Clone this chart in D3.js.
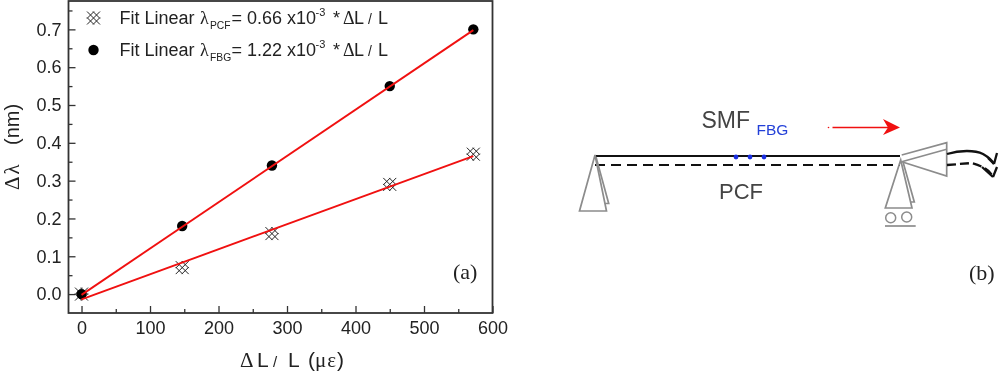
<!DOCTYPE html>
<html>
<head>
<meta charset="utf-8">
<script src="https://cdn.jsdelivr.net/npm/d3@7"></script>
<style>
  html, body { margin: 0; padding: 0; background: #fff; }
  svg { display: block; filter: blur(0.4px); }
  text { font-family: "Liberation Sans", Arial, sans-serif; fill: #222; }
  .serif { font-family: "Liberation Serif", serif; }
</style>
</head>
<body>
<svg width="1000" height="371"></svg>
<script>
// valori
const strain = [0, 147, 278, 450, 572];
const shiftPCF = [0, 0.07, 0.16, 0.29, 0.37];
const shiftFBG = [0, 0.18, 0.34, 0.55, 0.70];
// rette di fit (estremi)
const fitX = [0, 572];
const fitPCF = [-0.014, 0.365];
const fitFBG = [-0.002, 0.698];
const xTicks = [0, 100, 200, 300, 400, 500, 600];
const xMinor = [50, 150, 250, 350, 450, 550];
const yTicks = [0, 0.1, 0.2, 0.3, 0.4, 0.5, 0.6, 0.7];
const yMinor = [0.05, 0.15, 0.25, 0.35, 0.45, 0.55, 0.65, 0.75];

const svg = d3.select("svg");
const box = { left: 68.5, right: 492.5, top: 1, bottom: 313 };

const xScale = d3.scaleLinear().domain([-19, 600]).range([box.left, box.right]);
const yScale = d3.scaleLinear().domain([-0.05, 0.775]).range([box.bottom, box.top]);

// assi: tacche verso l'interno
function styleAxis(g) {
  g.select(".domain").remove();
  g.selectAll("line").attr("stroke", "#333").attr("stroke-width", 1.3);
  g.selectAll("text").attr("font-size", 18).attr("fill", "#222")
    .style("font-family", '"Liberation Sans", sans-serif');
}
function xAxis(values, size, labels) {
  svg.append("g")
    .attr("transform", `translate(0, ${box.bottom})`)
    .call(d3.axisBottom(xScale).tickValues(values).tickSize(-size).tickPadding(8)
      .tickFormat(labels ? d3.format("d") : ""))
    .call(styleAxis);
}
function yAxis(values, size, labels) {
  svg.append("g")
    .attr("transform", `translate(${box.left}, 0)`)
    .call(d3.axisLeft(yScale).tickValues(values).tickSize(-size).tickPadding(7)
      .tickFormat(labels ? d3.format(".1f") : ""))
    .call(styleAxis);
}
xAxis(xTicks, 7, true);
xAxis(xMinor, 4, false);
yAxis(yTicks, 7, true);
yAxis(yMinor, 4, false);

svg.append("rect")
  .attr("x", box.left).attr("y", box.top)
  .attr("width", box.right - box.left).attr("height", box.bottom - box.top)
  .attr("fill", "none").attr("stroke", "#333").attr("stroke-width", 1.8);

// simbolo incrociato del PCF
const hatch = "M-6.5,-6.5L6.5,6.5 M-0.5,-6.5L6.5,0.5 M-6.5,-0.5L0.5,6.5"
  + " M-6.5,6.5L6.5,-6.5 M-6.5,0.5L0.5,-6.5 M-0.5,6.5L6.5,-0.5";
function drawHatch(x, y) {
  svg.append("path")
    .attr("transform", `translate(${x}, ${y})`)
    .attr("d", hatch)
    .attr("fill", "none").attr("stroke", "#222").attr("stroke-width", 1);
}

strain.forEach((d, i) => drawHatch(xScale(d), yScale(shiftPCF[i])));

svg.selectAll(".fbg")
  .data(strain)
  .join("circle")
  .attr("class", "fbg")
  .attr("cx", d => xScale(d))
  .attr("cy", (d, i) => yScale(shiftFBG[i]))
  .attr("r", 5.2)
  .attr("fill", "#000");

// rette di fit
const fitLine = d3.line().x((d, i) => xScale(fitX[i])).y(d => yScale(d));
[fitPCF, fitFBG].forEach(f => {
  svg.append("path")
    .attr("d", fitLine(f))
    .attr("fill", "none").attr("stroke", "#f01010").attr("stroke-width", 1.9);
});

// legenda
drawHatch(93.5, 18);
svg.append("circle").attr("cx", 93.5).attr("cy", 50).attr("r", 5.2).attr("fill", "#000");

function legendText(y, sub, value) {
  const t = svg.append("text").attr("y", y).attr("font-size", 18);
  t.append("tspan").attr("x", 119.5).text("Fit Linear");
  t.append("tspan").attr("x", 200).attr("class", "serif").text("λ");
  t.append("tspan").attr("x", 210).attr("font-size", 10.3).attr("dy", 5).text(sub);
  t.append("tspan").attr("x", 231.5).attr("dy", -5).text(`= ${value} x10`);
  t.append("tspan").attr("x", 315.5).attr("font-size", 11).attr("dy", -8).text("-3");
  t.append("tspan").attr("x", 333).attr("dy", 8).text("*");
  t.append("tspan").attr("x", 343).attr("class", "serif").text("Δ");
  t.append("tspan").attr("x", 354).text("L");
  t.append("tspan").attr("x", 368).attr("font-size", 14).text("/");
  t.append("tspan").attr("x", 378).text("L");
}
legendText(24, "PCF", "0.66");
legendText(56, "FBG", "1.22");

svg.append("text").attr("class", "serif").attr("x", 453).attr("y", 279)
  .attr("font-size", 22).text("(a)");

// titoli assi
const xTitle = svg.append("text").attr("y", 366.5).attr("font-size", 21);
xTitle.append("tspan").attr("x", 240).attr("class", "serif").text("Δ");
xTitle.append("tspan").attr("x", 257).text("L");
xTitle.append("tspan").attr("x", 273).attr("font-size", 15).text("/");
xTitle.append("tspan").attr("x", 288).text("L");
xTitle.append("tspan").attr("x", 308).text("(");
xTitle.append("tspan").attr("class", "serif").attr("letter-spacing", 1).text("με");
xTitle.append("tspan").text(")");

const yTitle = svg.append("text")
  .attr("transform", "translate(18.7, 190) rotate(-90)")
  .attr("font-size", 20);
yTitle.append("tspan").attr("x", 0).attr("class", "serif").attr("font-size", 21).attr("letter-spacing", 2).text("Δλ");
yTitle.append("tspan").attr("x", 45).text("(nm)");

// schema (b)
const grey = "#8c8c8c";
const schema = svg.append("g").attr("fill", "none");

schema.append("line").attr("x1", 596).attr("x2", 900).attr("y1", 156).attr("y2", 156)
  .attr("stroke", "#111").attr("stroke-width", 2.2);
schema.append("line").attr("x1", 595).attr("x2", 900).attr("y1", 165).attr("y2", 165)
  .attr("stroke", "#111").attr("stroke-width", 2.2).attr("stroke-dasharray", "10 6");

schema.selectAll(".grating")
  .data([736, 750, 764])
  .join("circle")
  .attr("class", "grating")
  .attr("cx", d => d).attr("cy", 157).attr("r", 2.4)
  .attr("fill", "#1a2fe0");

const greyPaths = [
  "M595,155L579.5,211L606.5,211Z",
  "M596,157L608.7,203.5L605,203.5",
  "M900.7,160L885.3,208L912,208Z",
  "M903.3,163L914.3,202L911,202",
  "M901.7,155L946.7,142.7L946.7,176L901.7,161.7",
  "M901.7,161.7L946.7,149.3",
  "M885,226L915.7,226"
];
greyPaths.forEach(p => {
  schema.append("path").attr("d", p).attr("stroke", grey).attr("stroke-width", 1.7);
});
[[890.7, 217.7], [906.7, 217]].forEach(c => {
  schema.append("circle").attr("cx", c[0]).attr("cy", c[1]).attr("r", 5)
    .attr("stroke", grey).attr("stroke-width", 1.5);
});

// fibre che escono a destra
[
  "M947,154C960,150 975,150 983,154C990,158 992,160 994,164",
  "M994,164L997,153",
  "M947,165L972,163C982,166 990,170 993,177",
  "M993,177L997,167",
  "M993,177L982,167",
  "M994,164L988,158"
].forEach((p, i) => {
  schema.append("path").attr("d", p).attr("stroke", "#111")
    .attr("stroke-width", 2.3).attr("stroke-dasharray", i === 2 ? "9 4" : null);
});

// freccia rossa
schema.append("path").attr("d", "M832.5,127.5L890,127.5").attr("stroke", "#f01010").attr("stroke-width", 1.5);
schema.append("path").attr("d", "M883,119L900,127.5L883,135L888,127.5Z").attr("fill", "#f01010");
schema.append("circle").attr("cx", 828.5).attr("cy", 127.5).attr("r", 0.8).attr("fill", "#f01010");

svg.append("text").attr("x", 701.5).attr("y", 128).attr("font-size", 23).style("fill", "#444").text("SMF");
svg.append("text").attr("x", 756.5).attr("y", 134.5).attr("font-size", 15.5).style("fill", "#2340d8").text("FBG");
svg.append("text").attr("x", 719).attr("y", 199).attr("font-size", 22).style("fill", "#444").text("PCF");
svg.append("text").attr("class", "serif").attr("x", 969).attr("y", 280).attr("font-size", 22).text("(b)");
</script>
</body>
</html>
